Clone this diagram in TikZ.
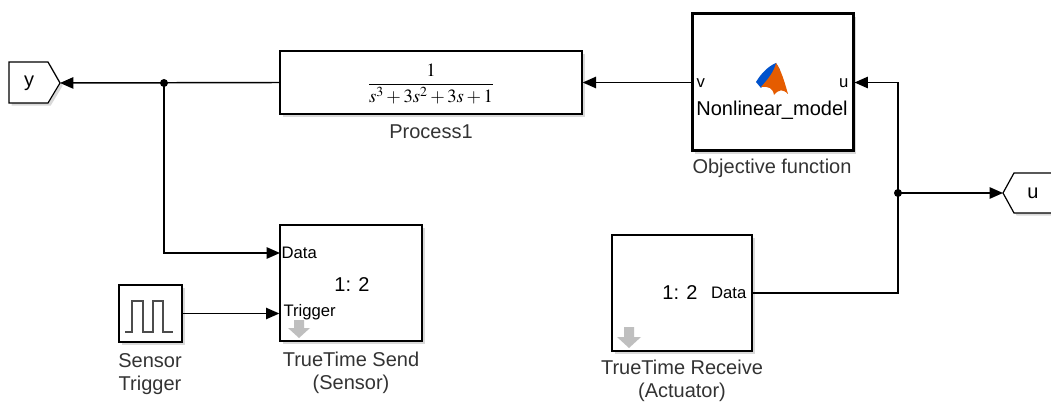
\documentclass[tikz,border=0pt]{standalone}
\usepackage{amsmath}
\usepackage{mathptmx}
\usepackage{fontspec}
\setmainfont{Liberation Sans}
\usetikzlibrary{arrows.meta,shadows}

\tikzset{
  block/.style={draw, line width=1pt, fill=white, inner sep=0pt,
    drop shadow={shadow xshift=2pt, shadow yshift=-2pt, opacity=0.3}},
  sig/.style={-{Triangle[length=10pt,width=8.5pt]}, line width=1.1pt},
  portlbl/.style={font=\fontsize{12.5}{14}\selectfont, inner sep=1pt},
  blklbl/.style={text=black!80, align=center},
  tag/.style={draw, line width=0.9pt, fill=white,
    drop shadow={shadow xshift=2pt, shadow yshift=-2pt, opacity=0.3}},
  hint/.style={fill=black!25, draw=none}
}

\begin{document}
\begin{tikzpicture}[x=0.75pt,y=-0.75pt,font=\fontsize{15}{17}\selectfont]
\useasboundingbox (0,0) rectangle (1051,403);

% blocks
\node [block, minimum width=226.5pt, minimum height=47.25pt] (proc) at (431,82.5) {};
\node [block, line width=2.25pt, minimum width=120.75pt, minimum height=102.75pt] (obj) at (772.5,82.5) {};
\node [block, minimum width=106.5pt, minimum height=87pt] (send) at (351,283) {};
\node [block, minimum width=105pt, minimum height=87pt] (recv) at (682,293) {};
\node [block, minimum width=47.25pt, minimum height=42.75pt] (trig) at (150.5,313.5) {};

% goto tags
\draw [tag] (9,62) -- (48,62) -- (60,83) -- (48,103) -- (9,103) -- cycle;
\node (ytag) at (29,83) {y};
\coordinate (ytip) at (60,83);
\draw [tag] (1070,173) -- (1014,173) -- (1003,193) -- (1014,213) -- (1070,213);
\node (utag) at (1033,193) {u};
\coordinate (utip) at (1003,193);

% block contents
\node (tf) at (431,84) {\fontsize{14}{16}\selectfont $\dfrac{1}{s^3+3s^2+3s+1}$};
\node [blklbl] (proclbl) at (431,132) {Process1};

\node [portlbl, anchor=west] (vin) at (695,83) {v};
\node [portlbl, anchor=east] (uin) at (850,83) {u};
\node (objname) at (772,110) {Nonlinear\_model};
\node [blklbl] (objlbl) at (772,168) {Objective function};
\fill [blue!60!cyan!80!black] (756,82) .. controls (762,72) and (769,66) .. (776,63)
  -- (780,70) .. controls (773,75) and (766,82) .. (761,88) -- cycle;
\fill [orange!80!red!90!black] (776,63) .. controls (781,70) and (784,80) .. (788,94)
  .. controls (783,89) and (779,89) .. (774,95) .. controls (773,88) and (768,86) .. (761,87)
  .. controls (768,79) and (774,72) .. (776,63) -- cycle;

\coordinate (send-data) at (280,253);
\node [portlbl, anchor=west] (datalbl) at (send-data) {Data};
\node [portlbl, anchor=west] (triglbl) at (282,312) {Trigger};
\node (sendrate) at (352,285) {1: 2};
\fill [hint] (294,320) -- (304,320) -- (304,328) -- (310,328) -- (299,338) -- (288,328) -- (294,328) -- cycle;
\node [blklbl] (sendlbl) at (351,373) {TrueTime Send\\(Sensor)};

\node [portlbl, anchor=east] (rdata) at (748,293) {Data};
\node (recvrate) at (680,293) {1: 2};
\fill [hint] (624,327) -- (634,327) -- (634,337) -- (641,337) -- (629,348) -- (617,337) -- (624,337) -- cycle;
\node [blklbl] (recvlbl) at (682,381) {TrueTime Receive\\(Actuator)};

\draw [black!70, line width=0.8pt] (125,332) -- (132,332) -- (132,301) -- (143,301) -- (143,332)
  -- (153,332) -- (153,301) -- (163,301) -- (163,332) -- (173,332);
\node [blklbl] (triglbl2) at (150,374) {Sensor\\Trigger};

% signals
\coordinate (j1) at (164,83);
\coordinate (j2) at (898,193);
\draw [sig] (obj.west) -- (proc.east);
\draw [sig] (proc.west) -- (ytip);
\draw [sig] (j1) |- (send-data);
\draw [sig] (trig.east) -- (trig.east -| send.west);
\draw [sig] (recv.east) -| (j2) |- (obj.east);
\draw [sig] (j2) -- (utip);
\fill (j1) circle [radius=3pt];
\fill (j2) circle [radius=3pt];

\end{tikzpicture}
\end{document}
